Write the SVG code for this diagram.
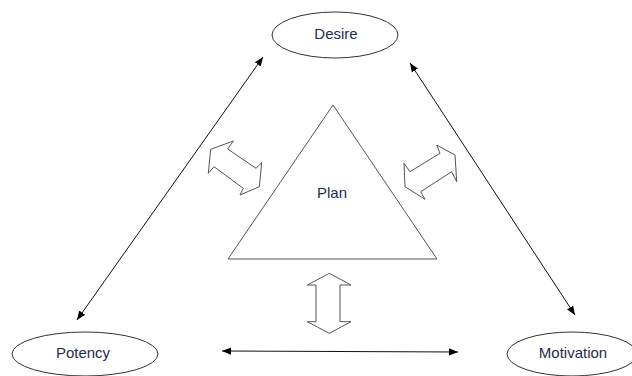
<svg xmlns="http://www.w3.org/2000/svg" width="632" height="376" viewBox="0 0 632 376">
<defs>
<marker id="ah" viewBox="0 0 10 10" refX="10" refY="5" markerWidth="9" markerHeight="9" markerUnits="userSpaceOnUse" orient="auto-start-reverse">
<path d="M0,1 L10,5 L0,9 Z" fill="#000"/>
</marker>
<style>
.ell{fill:#fff;stroke:#333;stroke-width:1}
.lbl{font-family:"Liberation Sans",Arial,sans-serif;font-size:15px;fill:#1f2d4d;text-anchor:middle;dominant-baseline:central}
.con{stroke:#111;stroke-width:1;fill:none}
.blk{fill:#fff;stroke:#555;stroke-width:1;stroke-linejoin:miter}
</style>
</defs>
<rect width="632" height="376" fill="#fff"/>
<g id="connectors">
<line class="con" x1="263" y1="57" x2="77" y2="320" marker-start="url(#ah)" marker-end="url(#ah)"/>
<line class="con" x1="410" y1="63" x2="575" y2="315" marker-start="url(#ah)" marker-end="url(#ah)"/>
<line class="con" x1="222" y1="351" x2="458" y2="352" marker-start="url(#ah)" marker-end="url(#ah)"/>
<polygon id="blockarrow-left" class="blk" points="233.3,141 227.7,149 256,168.3 261.7,162.7 259.3,186.7 240,195 243.3,188.3 214,166.7 208.3,173.3 210.7,149.3"/>
<polygon id="blockarrow-right" class="blk" points="436.7,145 440,153.3 410,171.7 404,163.3 405,186.7 425,199.3 420.7,191.7 451.7,171.7 456.7,181.7 455,155"/>
<polygon id="blockarrow-bottom" class="blk" points="329.3,273.3 351,285 340,285 340,321.7 351,321.7 329.3,333.3 307.3,321.7 316,321.7 316,285 307.3,285"/>
</g>
<g id="node-desire">
<ellipse class="ell" cx="335" cy="35" rx="63" ry="23"/>
<text class="lbl" x="336" y="33">Desire</text>
</g>
<g id="node-plan">
<polygon points="333,105 228,259 437,259" fill="#fff" stroke="#555" stroke-width="1"/>
<text class="lbl" x="332" y="192">Plan</text>
</g>
<g id="node-potency">
<ellipse class="ell" cx="85" cy="354" rx="73" ry="22"/>
<text class="lbl" x="83" y="352">Potency</text>
</g>
<g id="node-motivation">
<ellipse class="ell" cx="572" cy="354" rx="65" ry="22"/>
<text class="lbl" x="573" y="352">Motivation</text>
</g>
</svg>
